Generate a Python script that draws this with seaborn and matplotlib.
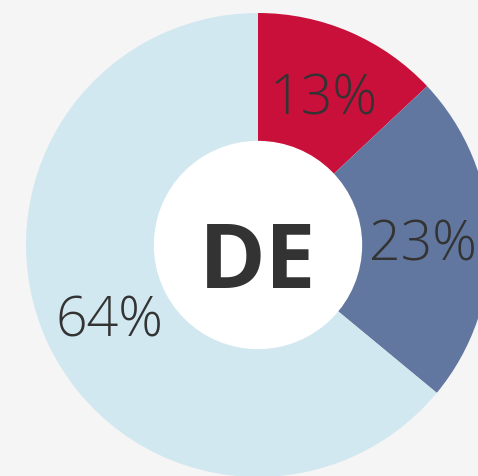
"""
Donut chart of share by segment for DE.
"""

import matplotlib
matplotlib.use("Agg")
import matplotlib.pyplot as plt
import seaborn as sns

# data
segments = ["Segment A", "Segment B", "Segment C"]
shares = [13, 23, 64]
center_label = "DE"
colors = ["#C8103A", "#6277A0", "#D2E8F0"]

sns.set_style("white")
plt.rcParams["font.family"] = ["Open Sans", "DejaVu Sans"]
palette = sns.color_palette(colors)

fig = plt.figure(figsize=(4.78, 4.76), dpi=100, facecolor="#F5F5F5")
# pie centre at (258, 245) px, outer radius ~232 px
ax = fig.add_axes([26 / 478, (476 - 477) / 476, 464 / 478, 464 / 476])
ax.set_facecolor("none")

wedges, texts, autotexts = ax.pie(
    shares,
    colors=palette,
    startangle=90,
    counterclock=False,
    radius=1.0,
    autopct=lambda p: f"{p:.0f}%",
    pctdistance=0.71,
    wedgeprops=dict(width=0.556, linewidth=0),
    textprops=dict(fontsize=40, color="#333333", fontweight="light"),
)
for t in autotexts:
    t.set_va("center_baseline")

ax.add_patch(plt.Circle((0, 0), 0.446, color="white", zorder=3))
ax.text(0, -0.085, center_label, ha="center", va="center", fontsize=65,
        fontweight="bold", color="#333333", zorder=4)

ax.set_xlim(-1, 1)
ax.set_ylim(-1, 1)
ax.set_aspect("equal")
ax.axis("off")

fig.savefig("out.png", dpi=100, facecolor=fig.get_facecolor())
plt.close(fig)
